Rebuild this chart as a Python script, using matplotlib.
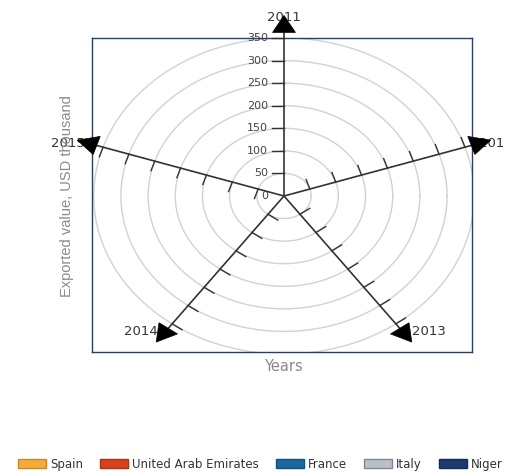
import numpy as np
import matplotlib
matplotlib.use('Agg')
import matplotlib.pyplot as plt
from matplotlib.patches import Polygon, Patch

# ---------------- data ----------------
years = ['2011', '2012', '2013', '2014', '2015']
radial_ticks = [0, 50, 100, 150, 200, 250, 300, 350]
series_names = ['Spain', 'United Arab Emirates', 'France', 'Italy', 'Niger']
spain = [0, 0, 0, 0, 0]
uae = [0, 0, 0, 0, 0]
france = [0, 0, 0, 0, 0]
italy = [0, 0, 0, 0, 0]
niger = [0, 0, 0, 0, 0]
series_values = [spain, uae, france, italy, niger]
series_colors = ['#F5AA3A', '#D9401C', '#1C67A0', '#BAC0C7', '#1B3A6D']
series_edges = ['#C98A2C', '#A8321A', '#15507E', '#80868E', '#142B52']

# ---------------- figure ----------------
W, H = 506, 473
fig = plt.figure(figsize=(W / 100, H / 100), dpi=100)
ax = fig.add_axes([92 / W, (H - 352) / H, 380 / W, 314 / H])
sy = 158 / 350.0          # px per unit vertically
sx = sy * 1.204           # px per unit horizontally (stretched chart)
ax.set_xlim(-192 / sx, 188 / sx)
ax.set_ylim(-156 / sy, 158 / sy)
ax.set_xticks([])
ax.set_yticks([])
for sp in ax.spines.values():
    sp.set_color('#2f3f56')
    sp.set_linewidth(1.0)

n = len(years)
angles = [np.pi / 2 - 2 * np.pi * i / n for i in range(n)]

# grid circles
t = np.linspace(0, 2 * np.pi, 400)
for r in radial_ticks[1:]:
    ax.plot(r * np.cos(t), r * np.sin(t), color='#d2d2d2', lw=1.0, zorder=1)

# series (radar polygons)
for vals, col, ec in zip(series_values, series_colors, series_edges):
    xs = [v * np.cos(a) for v, a in zip(vals, angles)]
    ys = [v * np.sin(a) for v, a in zip(vals, angles)]
    ax.fill(xs, ys, color=col, alpha=0.6, lw=0, zorder=2)

# axes lines, arrows, ticks
R_tip = 400
head_len = 17 / sy
head_hw = 9.5 / sy
tick_len = 10 / sy
axis_col = '#333333'
for a in angles:
    c, s = np.cos(a), np.sin(a)
    px, py = -s, c
    ax.plot([0, (R_tip - head_len) * c], [0, (R_tip - head_len) * s],
            color=axis_col, lw=1.2, zorder=3, clip_on=False)
    tip = (R_tip * c, R_tip * s)
    bx, by = (R_tip - head_len) * c, (R_tip - head_len) * s
    head = Polygon([tip, (bx + head_hw * px, by + head_hw * py),
                    (bx - head_hw * px, by - head_hw * py)],
                   closed=True, facecolor='black', edgecolor='black',
                   lw=0.5, zorder=5, clip_on=False)
    ax.add_patch(head)
    for r in radial_ticks[1:]:
        x0, y0 = r * c, r * s
        ax.plot([x0, x0 + tick_len * px], [y0, y0 + tick_len * py],
                color=axis_col, lw=1.0, zorder=3, clip_on=False)

# radial tick labels on the first axis
for r in radial_ticks:
    ax.text(-tick_len - 4 / sx, r, str(r), ha='right', va='center',
            fontsize=8, color='#444444', family='DejaVu Sans', zorder=6)

# year labels at arrow tips
label_specs = {
    '2011': ((0, -2), 'center'),
    '2012': ((-12, -3), 'left'),
    '2013': ((0, 11), 'left'),
    '2014': ((2, 11), 'right'),
    '2015': ((8, -3), 'right'),
}
for yr, a in zip(years, angles):
    off, ha = label_specs[yr]
    ax.annotate(yr, xy=(R_tip * np.cos(a), R_tip * np.sin(a)), xytext=off,
                textcoords='offset pixels', ha=ha, va='center', fontsize=9.5,
                color='#333333', family='DejaVu Sans', zorder=4,
                annotation_clip=False)

# axis titles
fig.text(67 / W, 1 - 196 / H, 'Exported value, USD thousand', rotation=90,
         ha='center', va='center', fontsize=10.5, color='#8a8a8a',
         family='Liberation Sans')
fig.text(283 / W, 1 - 366 / H, 'Years', ha='center', va='center',
         fontsize=10.5, color='#8a8a8a', family='DejaVu Sans')

# legend
handles = [Patch(facecolor=c, edgecolor=e, lw=1.0)
           for c, e in zip(series_colors, series_edges)]
leg = fig.legend(handles, series_names, loc='center left',
                 bbox_to_anchor=(18 / W, 1 - 464 / H), ncol=5, frameon=False,
                 prop={'family': 'DejaVu Sans', 'size': 8.5},
                 handlelength=2.37, handleheight=0.75, handletextpad=0.35,
                 columnspacing=1.44, borderpad=0, borderaxespad=0)
for tx in leg.get_texts():
    tx.set_color('#333333')

fig.savefig('out.png', dpi=100)
